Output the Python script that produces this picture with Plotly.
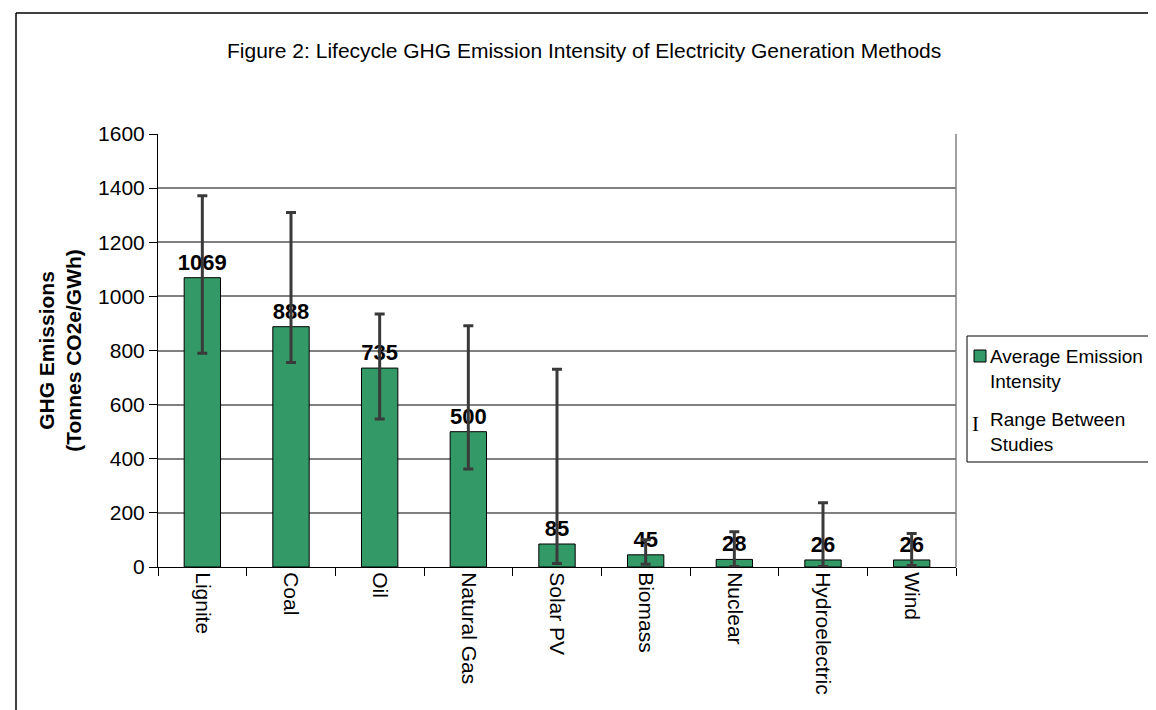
import plotly.graph_objects as go

categories = ["Lignite", "Coal", "Oil", "Natural Gas", "Solar PV", "Biomass",
              "Nuclear", "Hydroelectric", "Wind"]
average = [1069, 888, 735, 500, 85, 45, 28, 26, 26]
range_low = [790, 756, 547, 362, 13, 10, 2, 2, 6]
range_high = [1372, 1310, 935, 891, 731, 101, 130, 237, 124]
y_ticks = [0, 200, 400, 600, 800, 1000, 1200, 1400, 1600]

err_plus = [h - v for h, v in zip(range_high, average)]
err_minus = [v - l for v, l in zip(average, range_low)]

FONT = "Arial, Liberation Sans, sans-serif"
W, H = 1156, 710
ML, MR, MT, MB = 150, 208, 126, 151

def px_x(p):
    return (p - ML) / (W - ML - MR)

def px_y(p):
    return (H - MB - p) / (H - MT - MB)

fig = go.Figure()
fig.add_trace(go.Bar(
    x=categories, y=average,
    marker=dict(color="#339966", line=dict(color="#000000", width=1)),
    width=0.41,
    text=[str(v) for v in average], textposition="outside",
    constraintext="none",
    textfont=dict(family=FONT, size=22, color="#000000", weight="bold"),
    cliponaxis=False,
    error_y=dict(type="data", symmetric=False, array=err_plus, arrayminus=err_minus,
                 color="#3a3a3a", thickness=3, width=5),
    showlegend=False,
))

fig.update_layout(
    width=W, height=H,
    paper_bgcolor="white", plot_bgcolor="white",
    margin=dict(l=ML, r=MR, t=MT, b=MB),
    font=dict(family=FONT, color="#000000"),
    bargap=0.59,
)
fig.update_yaxes(
    range=[0, 1600], tickvals=y_ticks, ticks="outside", ticklen=8, tickcolor="#000000",
    showline=True, linecolor="#000000", linewidth=1,
    showgrid=True, gridcolor="#808080", gridwidth=1.5, zeroline=False,
    tickfont=dict(family=FONT, size=21, color="#000000"),
    title=dict(text="GHG Emissions<br>(Tonnes CO2e/GWh)", standoff=10,
               font=dict(family=FONT, size=21, color="#000000", weight="bold")),
)
fig.update_xaxes(
    tickangle=90, ticks="outside", ticklen=8, tickcolor="#000000", tickson="boundaries",
    showline=True, linecolor="#000000", linewidth=1,
    tickfont=dict(family=FONT, size=21, color="#000000"),
)

# title
fig.add_annotation(xref="paper", yref="paper", x=px_x(576), y=px_y(42),
                   xanchor="center", yanchor="middle", showarrow=False,
                   text="Figure 2: Lifecycle GHG Emission Intensity of Electricity Generation Methods",
                   font=dict(family=FONT, size=21, color="#000000"))

# plot area right border (grey)
fig.add_shape(type="line", xref="paper", yref="paper", x0=1, x1=1, y0=0, y1=1,
              line=dict(color="#808080", width=1.5))

# outer chart border (left and top visible)
fig.add_shape(type="line", xref="paper", yref="paper", x0=px_x(8), x1=px_x(8),
              y0=px_y(5), y1=px_y(720), line=dict(color="#000000", width=1.5))
fig.add_shape(type="line", xref="paper", yref="paper", x0=px_x(8), x1=px_x(1170),
              y0=px_y(5), y1=px_y(5), line=dict(color="#000000", width=1.5))

# legend box
fig.add_shape(type="rect", xref="paper", yref="paper", x0=px_x(959), x1=px_x(1155),
              y0=px_y(454), y1=px_y(328), line=dict(color="#000000", width=1), fillcolor="white")
fig.add_shape(type="rect", xref="paper", yref="paper", x0=px_x(966), x1=px_x(978),
              y0=px_y(354), y1=px_y(342), line=dict(color="#000000", width=1), fillcolor="#339966")
fig.add_annotation(xref="paper", yref="paper", x=px_x(981), y=px_y(361), xanchor="left",
                   yanchor="middle", align="left", showarrow=False, borderpad=0,
                   text="Average Emission<br>Intensity",
                   font=dict(family=FONT, size=19, color="#000000"))
fig.add_annotation(xref="paper", yref="paper", x=px_x(963), y=px_y(416), xanchor="left",
                   yanchor="middle", showarrow=False, text="I", borderpad=0,
                   font=dict(family="Liberation Serif, Times New Roman, serif", size=21, color="#000000"))
fig.add_annotation(xref="paper", yref="paper", x=px_x(981), y=px_y(424), xanchor="left",
                   yanchor="middle", align="left", showarrow=False, borderpad=0,
                   text="Range Between<br>Studies",
                   font=dict(family=FONT, size=19, color="#000000"))

fig.write_html("out.html")
